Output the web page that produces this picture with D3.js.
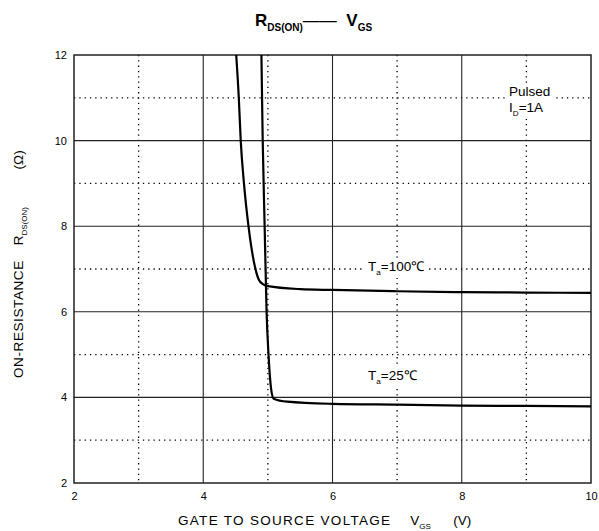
<!DOCTYPE html>
<html>
<head>
<meta charset="utf-8">
<title>RDS(ON) - VGS</title>
<script src="https://cdnjs.cloudflare.com/ajax/libs/d3/7.6.1/d3.min.js"></script>
<style>
  body { margin: 0; background: #fff; }
  text { font-family: "Liberation Sans", Arial, sans-serif; fill: #000; }
</style>
</head>
<body>
<svg id="chart" width="599" height="531"></svg>
<script>

// gate voltage (V) and on-resistance (ohm)
let vgs100 = [4.51, 4.55, 4.58, 4.63, 4.70, 4.80, 4.86, 4.93, 5.0, 5.5, 6, 7, 8, 9, 10];
let rds100 = [12, 11, 10, 9, 8, 7.05, 6.75, 6.64, 6.6, 6.53, 6.51, 6.48, 6.46, 6.45, 6.44];

let vgs25 = [4.90, 4.92, 4.95, 4.98, 5.01, 5.05, 5.09, 5.3, 6, 7, 8, 9, 10];
let rds25 = [12, 10, 8, 6, 5, 4.2, 3.97, 3.9, 3.85, 3.83, 3.81, 3.8, 3.79];

let xTicks = [2, 4, 6, 8, 10];
let yTicks = [2, 4, 6, 8, 10, 12];
let xMinor = [3, 5, 7, 9];
let yMinor = [3, 5, 7, 9, 11];

let svg = d3.select('#chart');
let pLeft = 74, pRight = 591, pTop = 55, pBottom = 483;

let x = d3.scaleLinear().domain([2, 10]).range([pLeft, pRight]);
let y = d3.scaleLinear().domain([2, 12]).range([pBottom, pTop]);

//
// grid: solid at labelled ticks, dotted in between
//
svg.append('g').selectAll('line')
   .data(xMinor).join('line')
   .attr('x1', d => x(d)).attr('x2', d => x(d))
   .attr('y1', pTop).attr('y2', pBottom)
   .attr('stroke', '#000').attr('stroke-width', 1.3)
   .attr('stroke-dasharray', '1.3,4');

svg.append('g').selectAll('line')
   .data(yMinor).join('line')
   .attr('y1', d => y(d)).attr('y2', d => y(d))
   .attr('x1', pLeft).attr('x2', pRight)
   .attr('stroke', '#000').attr('stroke-width', 1.3)
   .attr('stroke-dasharray', '1.3,4');

svg.append('g').selectAll('line')
   .data(xTicks.slice(1, -1)).join('line')
   .attr('x1', d => x(d)).attr('x2', d => x(d))
   .attr('y1', pTop).attr('y2', pBottom)
   .attr('stroke', '#222').attr('stroke-width', 1.1);

svg.append('g').selectAll('line')
   .data(yTicks.slice(1, -1)).join('line')
   .attr('y1', d => y(d)).attr('y2', d => y(d))
   .attr('x1', pLeft).attr('x2', pRight)
   .attr('stroke', '#222').attr('stroke-width', 1.1);

// frame
svg.append('rect')
   .attr('x', pLeft).attr('y', pTop)
   .attr('width', pRight - pLeft).attr('height', pBottom - pTop)
   .attr('fill', 'none').attr('stroke', '#222').attr('stroke-width', 1.5);

//
// axes (labels only)
//
let xAxis = d3.axisBottom(x).tickValues(xTicks).tickSize(0).tickPadding(9);
let gx = svg.append('g').attr('transform', `translate(0,${pBottom})`).call(xAxis);
gx.select('.domain').remove();
gx.selectAll('text').attr('font-size', 11).attr('font-family', 'Liberation Sans, Arial, sans-serif');

let yAxis = d3.axisLeft(y).tickValues(yTicks).tickSize(0).tickPadding(7);
let gy = svg.append('g').attr('transform', `translate(${pLeft},0)`).call(yAxis);
gy.select('.domain').remove();
gy.selectAll('text').attr('font-size', 11).attr('font-family', 'Liberation Sans, Arial, sans-serif');

//
// curves
//
let line = d3.line()
   .x(d => x(d[0]))
   .y(d => y(d[1]))
   .curve(d3.curveMonotoneX);

[[vgs100, rds100], [vgs25, rds25]].forEach(([vs, rs]) => {
   svg.append('path')
      .datum(d3.zip(vs, rs))
      .attr('d', line)
      .attr('fill', 'none')
      .attr('stroke', '#000')
      .attr('stroke-width', 2.2);
});

//
// annotations with white backing
//
function label(px, py, parts, size) {
   let t = svg.append('text').attr('x', px).attr('y', py).attr('font-size', size);
   parts.forEach(p => {
      let s = t.append('tspan').text(p[0]);
      if (p[1]) s.attr('font-size', size * 0.6).attr('dy', 4);
      else if (p[2]) s.attr('dy', -4);
   });
   let b = t.node().getBBox();
   svg.insert('rect', function () { return t.node(); })
      .attr('x', b.x - 3).attr('y', b.y - 1)
      .attr('width', b.width + 6).attr('height', b.height + 2)
      .attr('fill', '#fff');
   return t;
}

label(509, 96, [['Pulsed']], 13.5);
label(509, 112, [['I'], ['D', 1], ['=1A', 0, 1]], 13.5);
label(368, 271, [['T'], ['a', 1], ['=100℃', 0, 1]], 13.5);
label(368, 380, [['T'], ['a', 1], ['=25℃', 0, 1]], 13.5);

//
// titles
//
let title = svg.append('text').attr('x', 255).attr('y', 26)
   .attr('font-size', 17).attr('font-weight', 'bold').style('white-space', 'pre');
title.append('tspan').text('R');
title.append('tspan').text('DS(ON)').attr('font-size', 10).attr('dy', 5);
title.append('tspan').text('——').attr('dy', -5).attr('font-weight', 'normal');
title.append('tspan').text('  V');
title.append('tspan').text('GS').attr('font-size', 10).attr('dy', 5);

let xl = svg.append('text').attr('x', 178).attr('y', 525).attr('font-size', 13.5)
   .style('white-space', 'pre');
xl.append('tspan').text('GATE TO SOURCE VOLTAGE').attr('letter-spacing', 1.3);
xl.append('tspan').text('     V');
xl.append('tspan').text('GS').attr('font-size', 8).attr('dy', 4);
xl.append('tspan').text('      (V)').attr('dy', -4);

let yl = svg.append('text')
   .attr('transform', 'translate(23,378) rotate(-90)')
   .attr('font-size', 13.5).style('white-space', 'pre');
yl.append('tspan').text('ON-RESISTANCE').attr('letter-spacing', 0.6);
yl.append('tspan').text('    R');
yl.append('tspan').text('DS(ON)').attr('font-size', 8).attr('dy', 4);
yl.append('tspan').text('          (Ω)').attr('dy', -4);

</script>
</body>
</html>
